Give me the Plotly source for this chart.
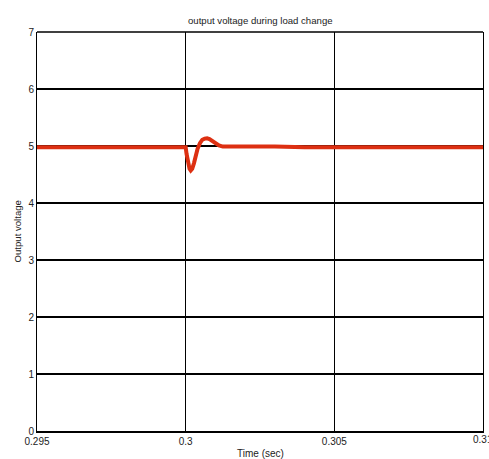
import plotly.graph_objects as go

time_s = [0.295, 0.2975, 0.3, 0.30003, 0.30008, 0.30013, 0.30017, 0.30022, 0.30028, 0.30034,
          0.30040, 0.30048, 0.30056, 0.30064, 0.30072, 0.30080, 0.30090, 0.30100, 0.30112,
          0.30125, 0.30140, 0.30160, 0.30185, 0.3022, 0.3026, 0.303, 0.304, 0.305, 0.307, 0.31]
voltage = [4.98, 4.98, 4.98, 4.86, 4.68, 4.60, 4.57, 4.60, 4.70, 4.83,
           4.95, 5.05, 5.11, 5.13, 5.135, 5.12, 5.08, 5.04, 5.01,
           4.99, 4.99, 5.00, 4.99, 5.00, 4.99, 4.99, 4.98, 4.98, 4.98, 4.98]

x_ticks = [0.295, 0.3, 0.305]
x_labels = ["0.295", "0.3", "0.305"]
x_last_tick = 0.31
x_last_label = "0.31"
y_ticks = [0, 1, 2, 3, 4, 5, 6, 7]

W, H = 489, 459
L, R, T, B = 37, 6, 32, 28
pw, ph = W - L - R, H - T - B

fig = go.Figure()
fig.add_trace(go.Scatter(x=time_s, y=voltage, mode="lines",
                         line=dict(color="rgb(221,48,18)", width=4),
                         showlegend=False, hoverinfo="skip"))

font = dict(family="Liberation Sans, Arial, sans-serif", size=10, color="#222")
fig.update_layout(
    width=W, height=H,
    margin=dict(l=L, r=R, t=T, b=B),
    paper_bgcolor="white", plot_bgcolor="white",
    font=font,
    xaxis=dict(range=[0.295, 0.31], tickvals=x_ticks + [x_last_tick],
               ticktext=x_labels + [""],
               showgrid=True, gridcolor="black", gridwidth=1,
               showline=True, linecolor="black", linewidth=2, mirror=False,
               ticks="", zeroline=False, tickfont=dict(size=10), automargin=False),
    yaxis=dict(range=[0, 7], tickvals=y_ticks,
               showgrid=True, gridcolor="black", gridwidth=2,
               showline=True, linecolor="black", linewidth=1, mirror=True,
               ticks="", zeroline=False, tickfont=dict(size=10), automargin=False),
    shapes=[dict(type="line", xref="paper", yref="paper", x0=0, x1=1, y0=1, y1=1,
                 line=dict(color="black", width=1.5))],
    annotations=[
        dict(text="output voltage during load change", xref="paper", yref="paper",
             x=0.5, y=1 + 12 / ph, xanchor="center", yanchor="middle",
             showarrow=False, font=dict(size=9.6, color="#222")),
        dict(text="Output voltage", xref="paper", yref="paper",
             x=-20 / pw, y=0.5, xanchor="center", yanchor="middle", textangle=-90,
             showarrow=False, font=dict(size=9.6, color="#222")),
        dict(text="Time (sec)", xref="paper", yref="paper",
             x=0.5, y=-22 / ph, xanchor="center", yanchor="middle",
             showarrow=False, font=dict(size=10, color="#222")),
        dict(text=x_last_label, xref="x", yref="paper",
             x=x_last_tick, y=0, xanchor="center", yanchor="top", yshift=-1,
             showarrow=False, font=dict(size=10, color="#222")),
    ],
)

fig.write_html("out.html", config={"displayModeBar": False},
               post_script="document.body.style.margin='0';document.body.style.overflow='hidden';")
